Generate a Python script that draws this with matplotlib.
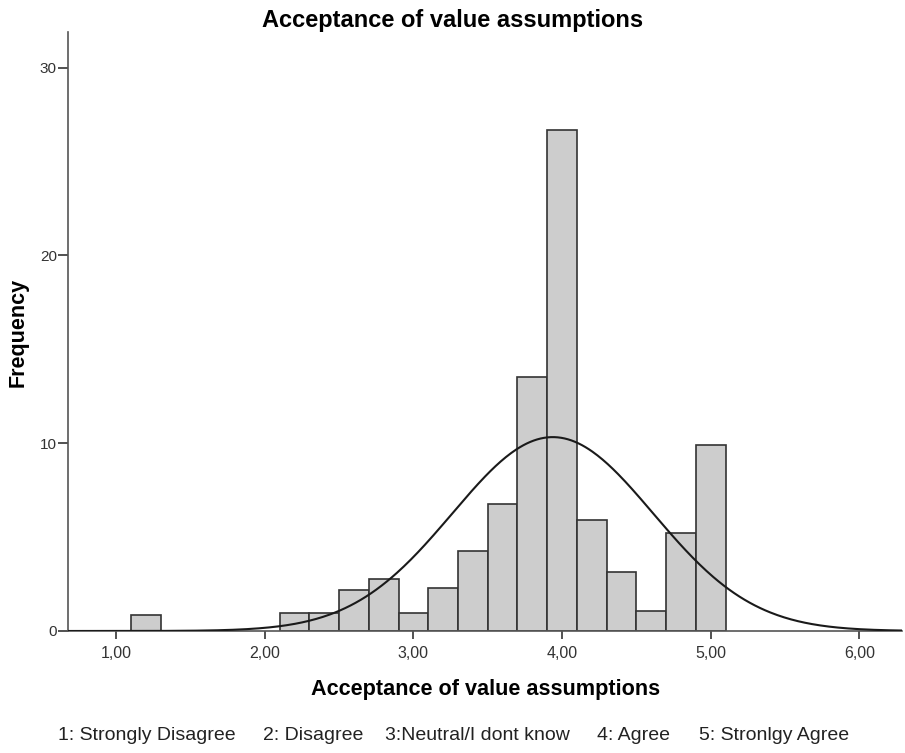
import numpy as np
import matplotlib.pyplot as plt

plt.rcParams['font.family'] = ['Liberation Sans', 'DejaVu Sans']

# histogram bins (left edges) and frequencies
bin_left = [1.1, 2.1, 2.3, 2.5, 2.7, 2.9, 3.1, 3.3, 3.5, 3.7, 3.9, 4.1, 4.3, 4.5, 4.7, 4.9]
freq = [0.835, 0.94, 0.94, 2.20, 2.75, 0.94, 2.30, 4.26, 6.74, 13.55, 26.7, 5.89, 3.15, 1.08, 5.23, 9.89]
bin_w = 0.2

x_ticks = [1, 2, 3, 4, 5, 6]
x_tick_labels = ['1,00', '2,00', '3,00', '4,00', '5,00', '6,00']
y_ticks = [0, 10, 20, 30]

footer_items = ['1: Strongly Disagree', '2: Disagree', '3:Neutral/I dont know',
                '4: Agree', '5: Stronlgy Agree']
footer_x = [58, 263, 385, 597, 699]  # left edges in pixels

W, H = 905, 753
fig = plt.figure(figsize=(W / 100, H / 100), dpi=100)
ax = fig.add_axes([68 / W, 1 - 631 / H, (902 - 68) / W, (631 - 32) / H])

ax.bar(bin_left, freq, width=bin_w, align='edge', color='#cdcdcd',
       edgecolor='#333333', linewidth=1.2, zorder=2)

# normal curve from the binned data
centers = np.array(bin_left) + bin_w / 2
w = np.array(freq)
n = w.sum()
mean = (centers * w).sum() / n
sd = np.sqrt((w * (centers - mean) ** 2).sum() / n)
xs = np.linspace(0.6, 6.4, 500)
ys = n * bin_w / (sd * np.sqrt(2 * np.pi)) * np.exp(-(xs - mean) ** 2 / (2 * sd ** 2))
ax.plot(xs, ys, color='#1a1a1a', linewidth=1.5, zorder=3)

ax.set_xlim(0.677, 6.286)
ax.set_ylim(0, 31.9)
ax.set_xticks(x_ticks)
ax.set_xticklabels(x_tick_labels)
ax.set_yticks(y_ticks)

for s in ['top', 'right']:
    ax.spines[s].set_visible(False)
for s in ['left', 'bottom']:
    ax.spines[s].set_color('#555555')
    ax.spines[s].set_linewidth(1.2)
ax.tick_params(axis='both', colors='#333333', width=1.2)
ax.tick_params(axis='y', length=7, pad=1, labelsize=11)
ax.tick_params(axis='x', length=6, pad=5, labelsize=11.5)

fig.text(453 / W, 1 - 27 / H, 'Acceptance of value assumptions', fontsize=17,
         fontweight='bold', ha='center', va='baseline')
fig.text(486 / W, 1 - 695 / H, 'Acceptance of value assumptions', fontsize=15.6,
         fontweight='bold', ha='center', va='baseline')
fig.text(18 / W, 1 - 332 / H, 'Frequency', fontsize=15.5, fontweight='bold',
         rotation=90, ha='center', va='center')

for item, px in zip(footer_items, footer_x):
    fig.text(px / W, 1 - 740 / H, item, fontsize=14, ha='left', va='baseline',
             color='#222222')

fig.savefig('out.png', dpi=100)
